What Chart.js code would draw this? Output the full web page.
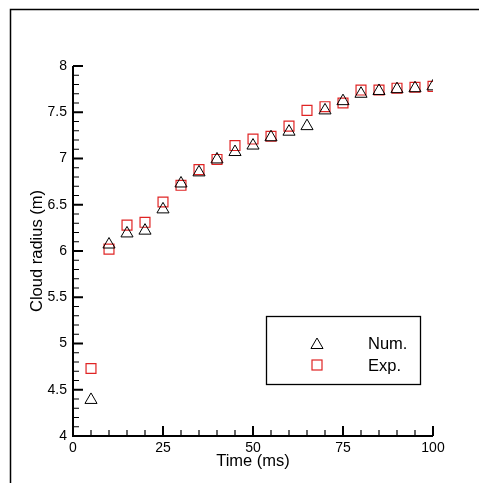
<!DOCTYPE html>
<html>
<head>
<meta charset="utf-8">
<script src="https://cdn.jsdelivr.net/npm/chart.js@4/dist/chart.umd.min.js"></script>
<style>
  body { margin: 0; background: #fff; }
  canvas { display: block; }
</style>
</head>
<body>
<canvas id="radiusChart" width="479" height="483"></canvas>
<script>
const times = [5, 10, 15, 20, 25, 30, 35, 40, 45, 50, 55, 60, 65, 70, 75, 80, 85, 90, 95, 100];
const numRadius = [4.39, 6.07, 6.19, 6.22, 6.45, 6.73, 6.85, 6.99, 7.07, 7.14, 7.23, 7.29, 7.35, 7.52, 7.62, 7.70, 7.73, 7.75, 7.76, 7.78];
const expRadius = [4.73, 6.02, 6.28, 6.31, 6.53, 6.71, 6.88, 6.99, 7.14, 7.21, 7.24, 7.35, 7.52, 7.56, 7.60, 7.74, 7.74, 7.76, 7.77, 7.78];
const xTicks = [0, 25, 50, 75, 100];
const yTicks = [4, 4.5, 5, 5.5, 6, 6.5, 7, 7.5, 8];
const seriesNames = ['Num.', 'Exp.'];

const fontFamily = "'Liberation Sans', Arial, Helvetica, sans-serif";
const expRed = '#e02424';

function toPoints(xs, ys) {
  return xs.map((t, i) => ({ x: t, y: ys[i] }));
}

// axis lines, inward ticks, outer frame and the boxed legend
const decorPlugin = {
  id: 'decor',
  beforeDatasetsDraw(chart) {
    const { ctx, chartArea: a, scales: { x, y } } = chart;
    ctx.save();
    ctx.strokeStyle = '#000';

    ctx.lineWidth = 1.5;
    ctx.strokeRect(10.5, 9.5, 600, 600);

    ctx.lineWidth = 2;
    ctx.beginPath();
    ctx.moveTo(a.left, a.top);
    ctx.lineTo(a.left, a.bottom);
    ctx.lineTo(a.right, a.bottom);
    ctx.stroke();

    // minor ticks
    ctx.lineWidth = 1.2;
    ctx.beginPath();
    for (let v = 5; v < 100; v += 5) {
      if (xTicks.includes(v)) continue;
      const px = x.getPixelForValue(v);
      ctx.moveTo(px, a.bottom);
      ctx.lineTo(px, a.bottom - 6);
    }
    for (let i = 1; i < 40; i++) {
      if (i % 5 === 0) continue;
      const py = y.getPixelForValue(4 + i * 0.1);
      ctx.moveTo(a.left, py);
      ctx.lineTo(a.left + 6, py);
    }
    ctx.stroke();

    // major ticks
    ctx.lineWidth = 2;
    ctx.beginPath();
    xTicks.forEach(v => {
      const px = x.getPixelForValue(v);
      ctx.moveTo(px, a.bottom);
      ctx.lineTo(px, a.bottom - 10);
    });
    yTicks.forEach(v => {
      const py = y.getPixelForValue(v);
      ctx.moveTo(a.left, py);
      ctx.lineTo(a.left + 10, py);
    });
    ctx.stroke();
    ctx.restore();
  },
  afterDraw(chart) {
    const { ctx } = chart;
    ctx.save();
    ctx.strokeStyle = '#000';
    ctx.lineWidth = 1.3;
    ctx.strokeRect(266.5, 316.5, 154, 68);

    // triangle
    const r = 7;
    ctx.lineWidth = 1;
    ctx.beginPath();
    ctx.moveTo(317, 345 - r);
    ctx.lineTo(317 + r * Math.sin(Math.PI * 2 / 3), 345 + r / 2);
    ctx.lineTo(317 - r * Math.sin(Math.PI * 2 / 3), 345 + r / 2);
    ctx.closePath();
    ctx.stroke();

    // square
    ctx.strokeStyle = expRed;
    ctx.lineWidth = 1.2;
    ctx.strokeRect(312, 360, 10, 10);

    ctx.fillStyle = '#000';
    ctx.font = '16.5px ' + fontFamily;
    ctx.textBaseline = 'middle';
    ctx.fillText(seriesNames[0], 368, 344);
    ctx.fillText(seriesNames[1], 368, 366);
    ctx.restore();
  }
};

const tickFont = { family: fontFamily, size: 14 };
const titleFont = { family: fontFamily, size: 16.5 };

const ctx = document.getElementById('radiusChart').getContext('2d');
new Chart(ctx, {
  type: 'scatter',
  data: {
    datasets: [{
      label: seriesNames[0],
      data: toPoints(times, numRadius),
      pointStyle: 'triangle',
      pointRadius: 7,
      pointHoverRadius: 7,
      borderColor: '#000',
      backgroundColor: 'rgba(0,0,0,0)',
      borderWidth: 1,
      showLine: false
    }, {
      label: seriesNames[1],
      data: toPoints(times, expRadius),
      pointStyle: 'rect',
      pointRadius: 7,
      pointHoverRadius: 7,
      borderColor: expRed,
      backgroundColor: 'rgba(0,0,0,0)',
      borderWidth: 1.2,
      showLine: false
    }]
  },
  options: {
    responsive: false,
    animation: false,
    layout: { padding: { top: 66, right: 46, left: 0, bottom: 0 } },
    plugins: { legend: { display: false }, tooltip: { enabled: false } },
    scales: {
      x: {
        type: 'linear',
        min: 0,
        max: 100,
        afterBuildTicks: s => { s.ticks = xTicks.map(v => ({ value: v })); },
        afterFit: s => { s.height = 47; },
        grid: { display: false, drawTicks: false },
        border: { display: false },
        ticks: { color: '#000', font: tickFont, padding: 4, maxRotation: 0, callback: v => String(v) },
        title: { display: true, text: 'Time (ms)', color: '#000', font: titleFont, padding: { top: 0, bottom: 12 } }
      },
      y: {
        type: 'linear',
        min: 4,
        max: 8,
        afterBuildTicks: s => { s.ticks = yTicks.map(v => ({ value: v })); },
        afterFit: s => { s.width = 73; },
        grid: { display: false, drawTicks: false },
        border: { display: false },
        ticks: { color: '#000', font: tickFont, padding: 6, callback: v => String(v) },
        title: { display: true, text: 'Cloud radius (m)', color: '#000', font: titleFont, padding: { top: 28, bottom: 0 } }
      }
    }
  },
  plugins: [decorPlugin]
});
</script>
</body>
</html>
